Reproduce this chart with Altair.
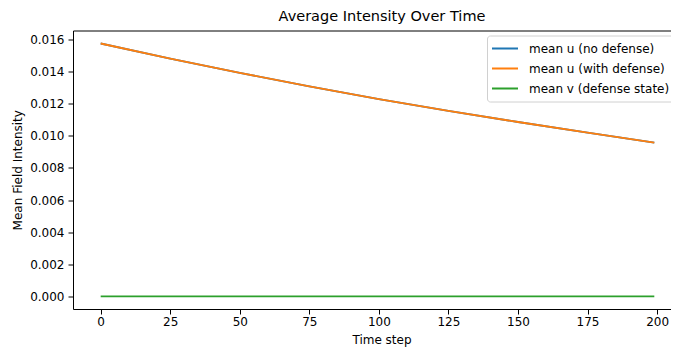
import altair as alt
import pandas as pd

# ---- data ----
steps = [0, 25, 50, 75, 100, 125, 150, 175, 199]
u_no_defense = [0.01575, 0.01481, 0.01392, 0.01308, 0.01228, 0.01155, 0.01086, 0.01020, 0.00957]
u_with_defense = [0.01575, 0.01481, 0.01392, 0.01308, 0.01228, 0.01155, 0.01086, 0.01020, 0.00957]
v_defense = [0.0, 0.0, 0.0, 0.0, 0.0, 0.0, 0.0, 0.0, 0.0]

series_names = ["mean u (no defense)", "mean u (with defense)", "mean v (defense state)"]
series_colors = ["#1f77b4", "#ff7f0e", "#2ca02c"]
x_ticks = [0, 25, 50, 75, 100, 125, 150, 175, 200]
y_ticks = [0.0, 0.002, 0.004, 0.006, 0.008, 0.010, 0.012, 0.014, 0.016]

rows = []
for idx, (name, vals) in enumerate(zip(series_names, [u_no_defense, u_with_defense, v_defense])):
    for t, v in zip(steps, vals):
        rows.append({"step": t, "value": v, "series": name, "ord": idx})
df = pd.DataFrame(rows)

FONT = "DejaVu Sans"
FS = 12

x_scale = alt.Scale(domain=[-9.95, 205.0], nice=False, zero=False)
y_scale = alt.Scale(domain=[-0.00079, 0.01656], nice=False, zero=False)

lines = alt.Chart(df).mark_line(strokeWidth=1.8, clip=True).encode(
    x=alt.X(
        "step:Q", scale=x_scale,
        axis=alt.Axis(values=x_ticks, title="Time step", grid=False,
                      domain=True, domainColor="black", domainWidth=1,
                      tickSize=5, tickColor="black", tickWidth=1, labelPadding=2,
                      labelFontSize=FS, labelColor="black", labelFont=FONT,
                      titleFontSize=FS, titleFont=FONT, titleFontWeight="normal",
                      titleColor="black", titlePadding=7, titleX=308.5),
    ),
    y=alt.Y(
        "value:Q", scale=y_scale,
        axis=alt.Axis(values=y_ticks, format=".3f", title="Mean Field Intensity", grid=False,
                      domain=True, domainColor="black", domainWidth=1,
                      tickSize=5, tickColor="black", tickWidth=1, labelPadding=4,
                      labelFontSize=FS, labelColor="black", labelFont=FONT,
                      titleFontSize=FS, titleFont=FONT, titleFontWeight="normal",
                      titleColor="black", titlePadding=5),
    ),
    color=alt.Color(
        "series:N",
        scale=alt.Scale(domain=series_names, range=series_colors),
        legend=alt.Legend(
            title=None, orient="none", legendX=414, legendY=5,
            symbolType="stroke", symbolSize=676, symbolStrokeWidth=1.8,
            clipHeight=18, padding=4, labelOffset=10,
            labelFontSize=FS, labelFont=FONT, labelColor="black",
            strokeColor="#d0d0d0", fillColor="white", cornerRadius=3,
        ),
    ),
    order=alt.Order("ord:Q"),
)

top_spine = alt.Chart(df).mark_point(opacity=0).encode(
    x=alt.X("step:Q", scale=x_scale,
            axis=alt.Axis(orient="top", labels=False, ticks=False, grid=False, title=None,
                          domain=True, domainColor="black", domainWidth=1)),
)

chart = alt.layer(lines, top_spine).resolve_axis(x="independent").properties(
    width=598,
    height=278.5,
    title=alt.TitleParams("Average Intensity Over Time", fontSize=14.5, font=FONT,
                          fontWeight="normal", color="black", offset=6, dx=10),
    padding={"left": 65, "top": 22.5, "right": 0, "bottom": 38},
    autosize=alt.AutoSizeParams(type="none"),
).configure_view(stroke=None)

chart.save("out.html", embed_options={"renderer": "svg", "actions": False})
